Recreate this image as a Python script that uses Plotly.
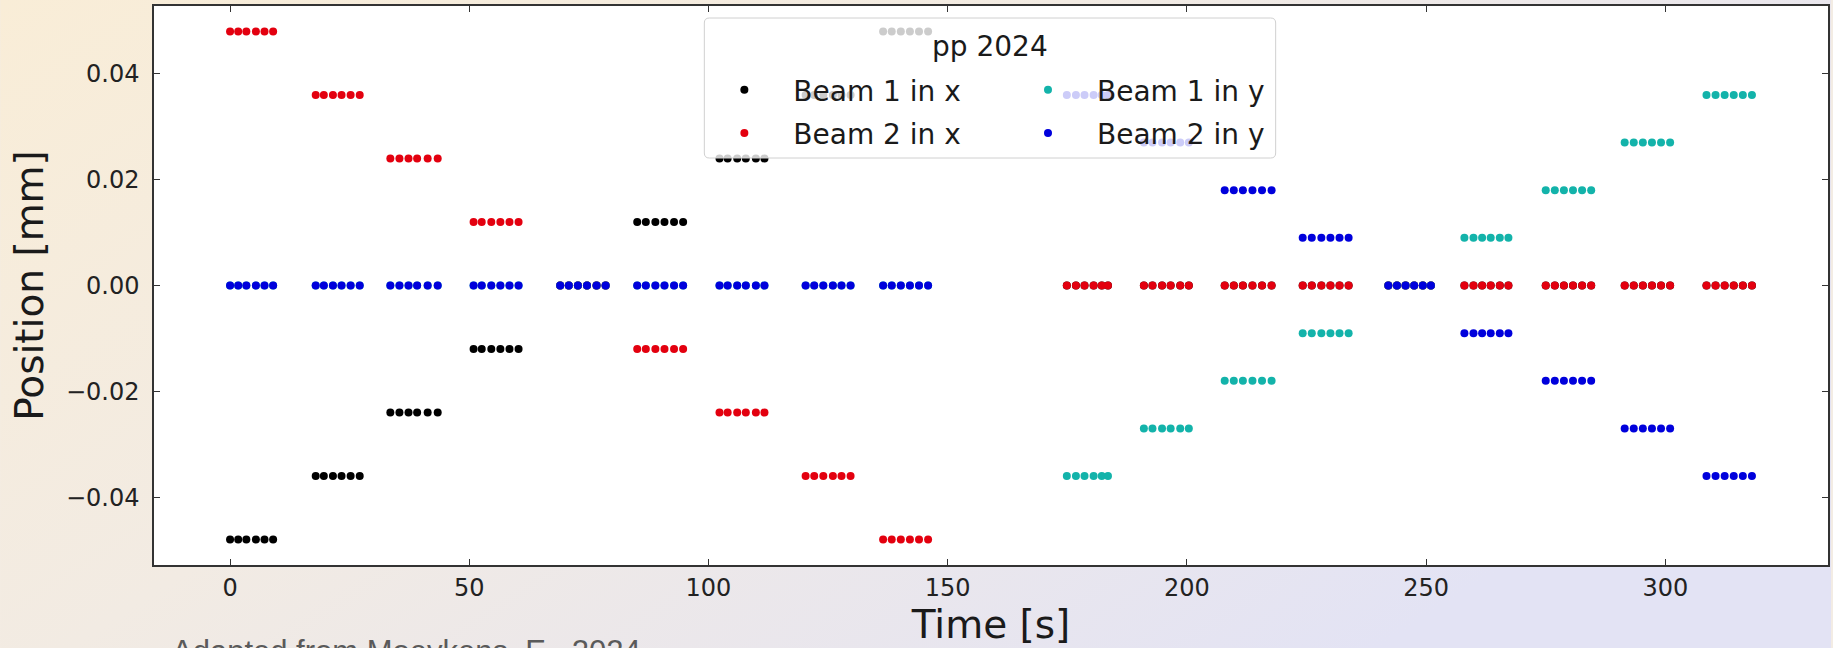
import base64
import plotly.graph_objects as go

# ---------------- data ----------------
# sample times [s], one list per scan step
step_times = [
    [0.0, 1.7, 3.4, 5.4, 7.2, 9.0],
    [17.9, 19.6, 21.5, 23.3, 25.2, 27.1],
    [33.5, 35.4, 37.3, 39.1, 41.3, 43.4],
    [50.9, 52.6, 54.6, 56.5, 58.4, 60.3],
    [69.0, 70.8, 72.7, 74.6, 76.6, 78.5],
    [85.1, 86.9, 88.9, 90.8, 92.8, 94.7],
    [102.3, 104.0, 106.0, 107.8, 109.9, 111.7],
    [120.3, 122.1, 124.0, 126.0, 127.8, 129.7],
    [136.5, 138.3, 140.2, 142.1, 144.0, 145.9],
    [174.9, 176.8, 178.6, 180.5, 182.2, 183.5],
    [191.0, 192.8, 194.8, 196.6, 198.6, 200.4],
    [207.9, 209.8, 211.7, 213.7, 215.7, 217.7],
    [224.2, 226.1, 228.1, 230.0, 231.9, 233.8],
    [242.1, 243.9, 245.7, 247.5, 249.3, 251.0],
    [258.0, 259.9, 261.7, 263.5, 265.4, 267.2],
    [275.0, 276.9, 278.8, 280.7, 282.6, 284.5],
    [291.5, 293.4, 295.3, 297.2, 299.1, 301.0],
    [308.6, 310.5, 312.4, 314.3, 316.2, 318.1],
]

# nominal position [mm] of each beam at every scan step
beam1_x = [-0.048, -0.036, -0.024, -0.012, 0.0, 0.012, 0.024, 0.036, 0.048,
           0.0, 0.0, 0.0, 0.0, 0.0, 0.0, 0.0, 0.0, 0.0]
beam2_x = [0.048, 0.036, 0.024, 0.012, 0.0, -0.012, -0.024, -0.036, -0.048,
           0.0, 0.0, 0.0, 0.0, 0.0, 0.0, 0.0, 0.0, 0.0]
beam1_y = [0.0, 0.0, 0.0, 0.0, 0.0, 0.0, 0.0, 0.0, 0.0,
           -0.036, -0.027, -0.018, -0.009, 0.0, 0.009, 0.018, 0.027, 0.036]
beam2_y = [0.0, 0.0, 0.0, 0.0, 0.0, 0.0, 0.0, 0.0, 0.0,
           0.036, 0.027, 0.018, 0.009, 0.0, -0.009, -0.018, -0.027, -0.036]

series_names = ["Beam 1 in x", "Beam 2 in x", "Beam 1 in y", "Beam 2 in y"]
x_ticks = [0, 50, 100, 150, 200, 250, 300]
x_ticklabels = ["0", "50", "100", "150", "200", "250", "300"]
y_ticks = [-0.04, -0.02, 0.0, 0.02, 0.04]
y_ticklabels = ["\u22120.04", "\u22120.02", "0.00", "0.02", "0.04"]
legend_title = "pp 2024"
credit = "Adapted from Moeykens, E., 2024"

# ---------------- layout constants ----------------
W, H = 1833, 648
ML, MR, MT, MB = 154, 3, 6, 83
PW, PH = W - ML - MR, H - MT - MB


def px_x(p):
    return (p - ML) / PW


def px_y(p):
    return (H - MB - p) / PH


def expand(values):
    xs = [t for grp in step_times for t in grp]
    ys = [v for grp, v in zip(step_times, values) for _ in grp]
    return xs, ys


colors = ["#000000", "#e3000f", "#13b3aa", "#0000dc"]
legends = ["legend", "legend", "legend2", "legend2"]

fig = go.Figure()
for name, vals, col, lg in zip(series_names, [beam1_x, beam2_x, beam1_y, beam2_y], colors, legends):
    xs, ys = expand(vals)
    fig.add_trace(go.Scatter(
        x=xs, y=ys, mode="markers", name=name,
        marker=dict(color=col, size=8, line=dict(width=0)),
        legend=lg, legendgroup=name,
    ))

# background gradient (paper)
svg = (
    '<svg xmlns="http://www.w3.org/2000/svg" width="1833" height="648" preserveAspectRatio="none">'
    '<defs><linearGradient id="g" x1="0" y1="0" x2="1" y2="0.55">'
    '<stop offset="0" stop-color="#f9edd7"/>'
    '<stop offset="0.45" stop-color="#f2ebe3"/>'
    '<stop offset="1" stop-color="#e3e3f4"/>'
    '</linearGradient></defs>'
    '<rect width="1833" height="648" fill="url(#g)"/></svg>'
)
src = "data:image/svg+xml;base64," + base64.b64encode(svg.encode()).decode()

fig.add_layout_image(dict(
    source=src, xref="paper", yref="paper",
    x=px_x(0), y=px_y(0), sizex=W / PW, sizey=H / PH,
    xanchor="left", yanchor="top", sizing="stretch", layer="below",
))

shapes = [
    dict(type="rect", xref="paper", yref="paper", x0=0, x1=1, y0=0, y1=1,
         fillcolor="white", line=dict(width=0), layer="below"),
]

# legend frame (semi-transparent, rounded)
lx0, lx1, ly0, ly1, r = 705, 1277, 18, 158, 5
rx, ry = r / PW, r / PH
X0, X1, Y0, Y1 = px_x(lx0), px_x(lx1), px_y(ly0), px_y(ly1)
path = (
    f"M {X0 + rx},{Y0} L {X1 - rx},{Y0} Q {X1},{Y0} {X1},{Y0 - ry} "
    f"L {X1},{Y1 + ry} Q {X1},{Y1} {X1 - rx},{Y1} "
    f"L {X0 + rx},{Y1} Q {X0},{Y1} {X0},{Y1 + ry} "
    f"L {X0},{Y0 - ry} Q {X0},{Y0} {X0 + rx},{Y0} Z"
)
shapes.append(dict(type="path", xref="paper", yref="paper", path=path,
                   fillcolor="rgba(255,255,255,0.8)",
                   line=dict(color="#d0d0d0", width=1), layer="above"))

font_main = "DejaVu Sans, Verdana, sans-serif"

legend_common = dict(
    xanchor="left", yanchor="top",
    bgcolor="rgba(0,0,0,0)", borderwidth=0,
    font=dict(size=28, family=font_main, color="#1a1a1a"),
    itemwidth=88, tracegroupgap=4, traceorder="grouped",
)

fig.update_layout(
    width=W, height=H,
    margin=dict(l=ML, r=MR, t=MT, b=MB, pad=0),
    paper_bgcolor="#f3ece4",
    plot_bgcolor="white",
    shapes=shapes,
    font=dict(family=font_main, color="#1a1a1a"),
    showlegend=True,
    legend=dict(x=px_x(696), y=px_y(65), **legend_common),
    legend2=dict(x=px_x(1000), y=px_y(65), **legend_common),
    annotations=[
        dict(text=legend_title, xref="paper", yref="paper",
             x=px_x(991), y=px_y(46), xanchor="center", yanchor="middle",
             showarrow=False, font=dict(size=28, family=font_main, color="#1a1a1a")),
        dict(text=credit, xref="paper", yref="paper",
             x=px_x(170), y=px_y(632), xanchor="left", yanchor="top",
             showarrow=False,
             font=dict(size=31, family="Liberation Sans, Arial, sans-serif", color="#5a5a5a")),
    ],
)

axis_common = dict(
    showline=True, linecolor="#333333", linewidth=1.5, mirror="allticks",
    ticks="inside", ticklen=6, tickwidth=1.2, tickcolor="#333333",
    showgrid=False, zeroline=False,
    tickfont=dict(size=24, family=font_main, color="#222222"),
)

fig.update_xaxes(
    range=[-15.9, 334.0], tickvals=x_ticks, ticktext=x_ticklabels,
    title=dict(text="Time [s]", font=dict(size=39, family=font_main, color="#1a1a1a"), standoff=6),
    ticklabelstandoff=0,
    **axis_common,
)
fig.update_yaxes(
    range=[-0.0528, 0.0528], tickvals=y_ticks, ticktext=y_ticklabels,
    title=dict(text="Position [mm]", font=dict(size=39, family=font_main, color="#1a1a1a"), standoff=10),
    ticklabelstandoff=8,
    **axis_common,
)

fig.write_html("out.html", config={"displayModeBar": False},
               post_script="document.body.style.margin='0';")
